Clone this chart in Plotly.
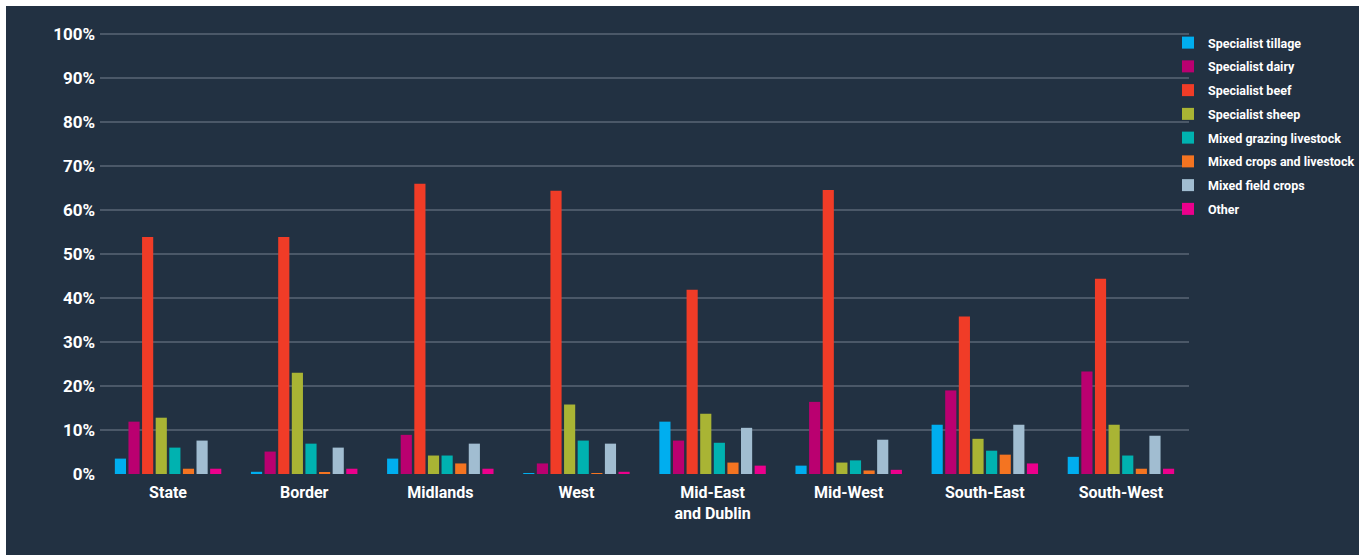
import plotly.graph_objects as go

regions = ["State", "Border", "Midlands", "West", "Mid-East<br>and Dublin",
           "Mid-West", "South-East", "South-West"]

series_names = ["Specialist tillage", "Specialist dairy", "Specialist beef",
                "Specialist sheep", "Mixed grazing livestock",
                "Mixed crops and livestock", "Mixed field crops", "Other"]

specialist_tillage = [3.5, 0.5, 3.5, 0.2, 11.9, 1.9, 11.2, 3.9]
specialist_dairy = [11.9, 5.1, 8.9, 2.4, 7.6, 16.4, 19.0, 23.3]
specialist_beef = [53.9, 53.9, 66.0, 64.4, 41.9, 64.6, 35.8, 44.4]
specialist_sheep = [12.8, 23.0, 4.2, 15.8, 13.7, 2.6, 8.0, 11.2]
mixed_grazing = [6.0, 6.9, 4.2, 7.6, 7.1, 3.1, 5.3, 4.2]
mixed_crops_livestock = [1.2, 0.3, 2.4, 0.2, 2.6, 0.8, 4.4, 1.2]
mixed_field_crops = [7.6, 6.0, 6.9, 6.9, 10.5, 7.8, 11.2, 8.7]
other = [1.2, 1.2, 1.2, 0.5, 1.9, 0.95, 2.4, 1.2]

series_values = [specialist_tillage, specialist_dairy, specialist_beef,
                 specialist_sheep, mixed_grazing, mixed_crops_livestock,
                 mixed_field_crops, other]

colors = ["#00AEEF", "#BA0070", "#F03C27", "#A9B434",
          "#00B2B0", "#F47421", "#A1BDD1", "#EC008C"]

y_ticks = list(range(0, 101, 10))
y_tick_labels = [f"{v}%" for v in y_ticks]

BG = "#223142"

fig = go.Figure()
for name, vals, col in zip(series_names, series_values, colors):
    fig.add_trace(go.Bar(x=regions, y=vals, name=name, marker_color=col,
                         marker_line_width=0, legendgroup=name))

W, H = 1359, 555
L, R, T, B = 100, 170, 32, 81
pw = W - L - R
ph = H - T - B

# dark panel leaving a thin white strip at top and left
fig.add_shape(type="rect", xref="paper", yref="paper", layer="below",
              x0=(6 - L) / pw, x1=(W + 5 - L) / pw,
              y0=-(B + 5) / ph, y1=(H - B - 6) / ph,
              fillcolor=BG, line_width=0)

fig.update_layout(
    width=W, height=H,
    margin=dict(l=L, r=R, t=T, b=B, pad=0, autoexpand=False),
    paper_bgcolor="white",
    plot_bgcolor=BG,
    barmode="group",
    bargap=0.2,
    bargroupgap=0.18,
    font=dict(family="Roboto", color="white"),
    legend=dict(x=(1168 - L) / pw, xanchor="left", y=(H - B - 28) / ph,
                yanchor="top", bgcolor="rgba(0,0,0,0)",
                font=dict(family="Roboto", size=12.5, color="white", weight="bold"),
                tracegroupgap=4.5, itemclick=False),
    xaxis=dict(showgrid=False, zeroline=False, showline=False, ticks="",
               ticklabelstandoff=7,
               tickfont=dict(size=16, color="white", weight="bold")),
    yaxis=dict(range=[0, 100.5], tickvals=y_ticks, ticktext=y_tick_labels,
               showgrid=True, gridcolor="#4B5868", gridwidth=2,
               zeroline=False, showline=False, ticks="",
               ticklabelstandoff=4,
               tickfont=dict(size=17, color="white", weight="bold")),
)

fig.write_html("out.html")
